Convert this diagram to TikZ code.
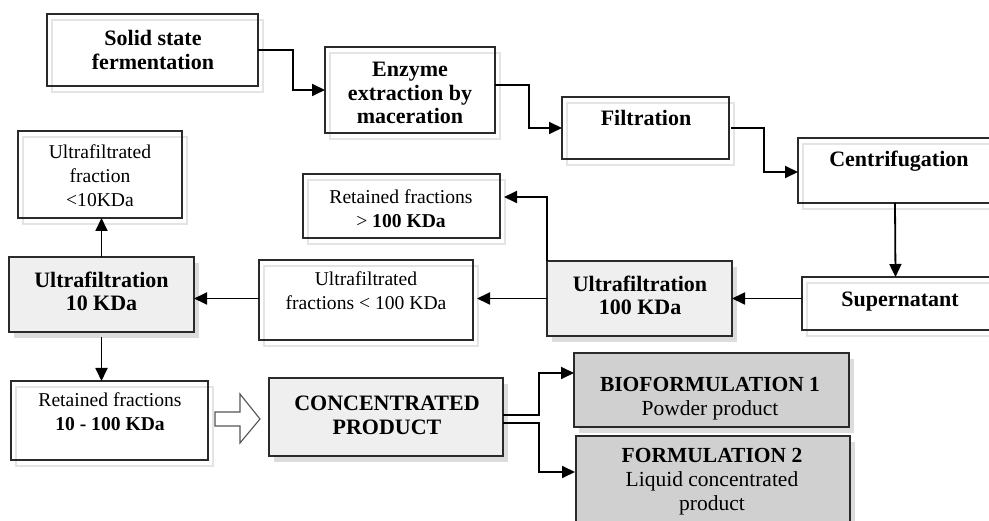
\documentclass[tikz,border=0pt]{standalone}
\usepackage{fontspec}
\setmainfont{Liberation Serif}
\usetikzlibrary{arrows.meta,calc}
\definecolor{ln}{HTML}{2A2A2A}
\definecolor{lgray}{HTML}{EFEFEF}
\definecolor{dgray}{HTML}{D0D0D0}
\definecolor{shw}{HTML}{E4E4E4}
\definecolor{shg}{HTML}{DCDCDC}
\newcommand\mkwbox[5]{%
  \fill[white] (#2,#3) rectangle (#4,#5);
  \draw[shw,line width=1.5pt] (#2+5,#3+6) rectangle (#4+5,#5+6);
  \node[boxline,minimum width={#4-#2},minimum height={#5-#3}] (#1) at ({(#2+#4)/2},{(#3+#5)/2}) {};}
\newcommand\mkgbox[6]{%
  \fill[shg] (#2+5,#3+6) rectangle (#4+5,#5+6);
  \node[boxline,fill=#6,minimum width={#4-#2},minimum height={#5-#3}] (#1) at ({(#2+#4)/2},{(#3+#5)/2}) {};}
\begin{document}
\begin{tikzpicture}[x=1pt,y=-1pt,
  boxline/.style={draw=ln,line width=1.6pt,inner sep=0pt,outer sep=0pt},
  bt/.style={font=\fontsize{22}{23.5}\selectfont\bfseries,align=center,inner sep=0pt,text=black},
  rt/.style={font=\fontsize{19.6}{24}\selectfont,align=center,inner sep=0pt,text=black},
  ft/.style={font=\fontsize{21.5}{24}\selectfont,align=center,inner sep=0pt,text=black},
  conn/.style={draw=black,line width=1.8pt,-{Triangle[length=13pt,width=12pt]}}]
\useasboundingbox (0,0) rectangle (989,521);
\clip (0,0) rectangle (989,521);
% boxes
\mkwbox{solid}{47}{14}{258}{86}
\mkwbox{enz}{325}{47}{495}{133}
\mkwbox{filt}{562}{97}{729}{159}
\mkwbox{cent}{798}{138}{1000}{203}
\mkwbox{sup}{802}{277}{1000}{330}
\mkgbox{uhun}{547}{261}{732}{336}{lgray}
\mkwbox{rhun}{303}{174}{500}{238}
\mkwbox{ufhun}{259}{260}{473}{340}
\mkgbox{uten}{9}{257}{194}{332}{lgray}
\mkwbox{uften}{18}{131}{182}{218}
\mkwbox{rten}{11}{381}{208}{460}
\mkgbox{conc}{269}{378}{503}{456}{lgray}
\mkgbox{bio}{574}{353}{849}{427}{dgray}
\mkgbox{form}{576}{436}{850}{540}{dgray}
% texts
\node[bt] (solidt) at (153,50) {Solid state\\fermentation};
\node[bt] (enzt) at (410,93) {Enzyme\\extraction by\\maceration};
\node[bt] (filtt) at (646,118) {Filtration};
\node[bt] (centt) at (899,161) {Centrifugation};
\node[bt] (supt) at (900,302) {Supernatant};
\node[bt] (uhunt) at (640,295.5) {Ultrafiltration\\100 KDa};
\node[rt] (rhunt) at (401,208.5) {Retained fractions\\> \textbf{100 KDa}};
\node[rt] (ufhunt) at (366,290.5) {Ultrafiltrated\\fractions < 100 KDa};
\node[bt] (utent) at (101.5,291.5) {Ultrafiltration\\10 KDa};
\node[rt] (uftent) at (100,176) {Ultrafiltrated\\fraction\\<10KDa};
\node[rt] (rtent) at (110,412) {Retained fractions\\\textbf{10 - 100 KDa}};
\node[bt] (conct) at (387,415.5) {CONCENTRATED\\PRODUCT};
\node[ft] (biot) at (710,398.5) {\textbf{BIOFORMULATION 1}\\Powder product};
\node[ft] (formt) at (712,482) {\textbf{FORMULATION 2}\\Liquid concentrated\\product};
% connectors
\draw[conn] (solid.east) -- ++(35,0) |- (enz.west);
\draw[conn] ($(enz.east)+(0,-5)$) -- ++(34,0) |- (filt.west);
\draw[conn] ($(filt.east)+(2,0)$) -- ++(33,0) |- ($(cent.west)+(0,1.5)$);
\draw[conn] ($(cent.south)+(-4,0)$) -- ($(sup.north)+(-5.5,0)$);
\draw[conn] (sup.west |- uhun.east) -- (uhun.east);
\draw[conn] (uhun.north west) |- ($(rhun.east)+(4,-9)$);
\draw[conn] (uhun.west) -- ($(uhun.west -| ufhun.east)+(4,0)$);
\draw[conn] (ufhun.west |- uhun.west) -- (uten.east |- uhun.west);
\draw[conn] (uten.north) -- (uten.north |- uften.south);
\draw[conn] ($(uten.south)+(0,5)$) -- (uten.south |- rten.north);
\coordinate (bioin) at ($(bio.west)+(0,-17)$);
\coordinate (formin) at ($(form.west)+(-1,-16)$);
\draw[conn] ($(conc.east)+(0,-2)$) -- ++(36,0) |- (bioin);
\draw[conn] ($(conc.east)+(0,6)$) -- ++(36,0) |- (formin);
% block arrow
\draw[draw=ln!80,fill=white,line width=1.1pt,line join=miter]
  (215,412) -- (240,412) -- (240,394) -- (260,419) -- (240,443) -- (240,426) -- (215,426) -- cycle;
\end{tikzpicture}
\end{document}
